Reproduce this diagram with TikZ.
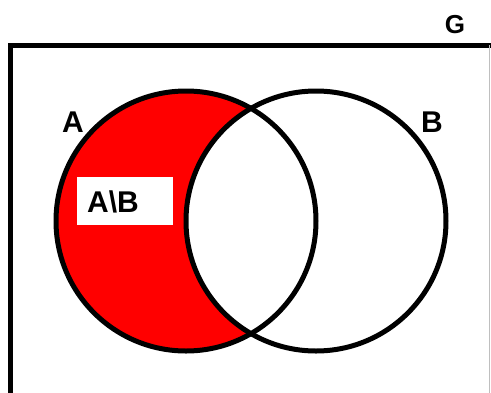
\documentclass[tikz,border=0pt]{standalone}
\usepackage{fontspec}
\setmainfont{Liberation Sans}
\definecolor{setred}{RGB}{255,0,0}
\begin{document}
\begin{tikzpicture}[x=1pt,y=-1pt,
  outline/.style={line width=5pt,black},
  lab/.style={font=\bfseries\fontsize{30}{30}\selectfont,inner sep=0pt}]
\useasboundingbox (0,0) rectangle (491,392);
\fill[white] (0,0) rectangle (491,392);
% universe G
\draw[line width=5pt,line cap=rect] (10,400) -- (10,45.5) -- (495,45.5);
\draw[line width=0.8pt,black!25] (489.5,45) -- (489.5,395);
% A \ B
\fill[setred] (186,221) circle[radius=130];
\fill[white] (316,221) circle[radius=130];
\draw[outline] (186,221) circle[radius=130];
\draw[outline] (316,221) circle[radius=130];
% labels
\node[lab] (labA) at (73,122) {A};
\node[lab] (labB) at (432,122) {B};
\node[lab,font=\bfseries\fontsize{26}{26}\selectfont] (labG) at (455,25) {G};
\node[fill=white,minimum width=96pt,minimum height=48pt,inner sep=0pt] (box) at (125,201) {};
\node[lab,font=\bfseries\fontsize{30}{30}\selectfont] (diff) at (113,202) {A\textbackslash B};
\end{tikzpicture}
\end{document}
